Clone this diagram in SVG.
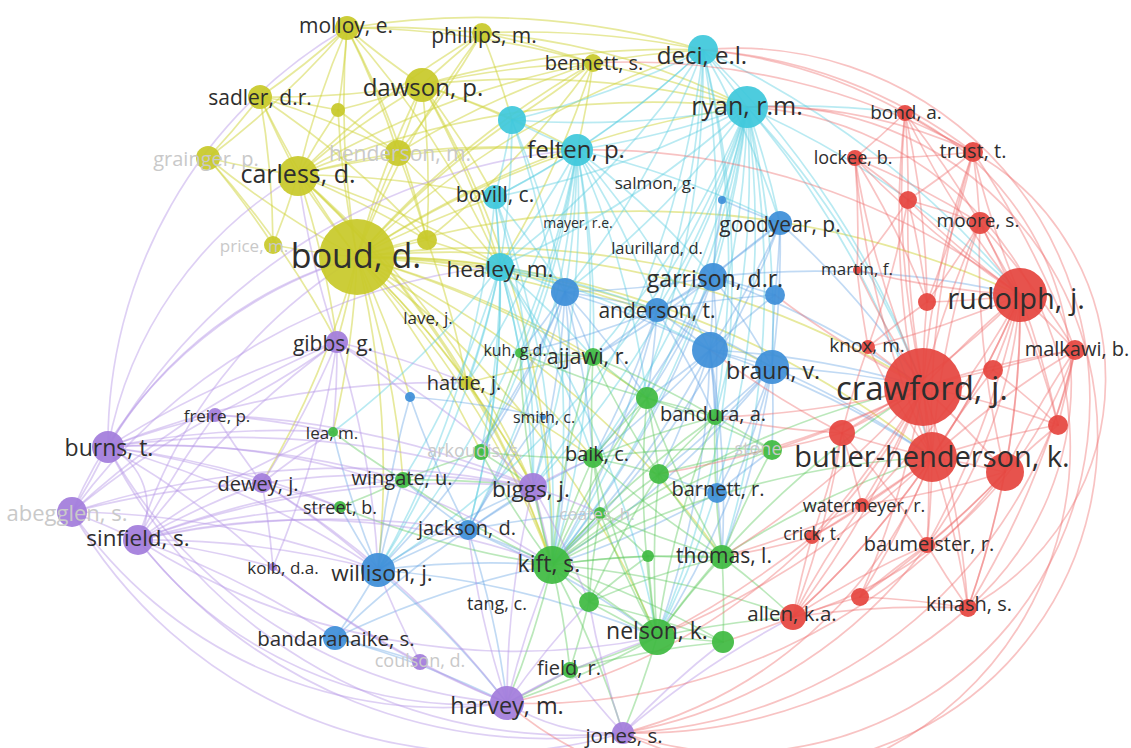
<svg xmlns="http://www.w3.org/2000/svg" width="1131" height="748" viewBox="0 0 1131 748">
<style>
.edges path{fill:none;stroke-width:1.7;stroke-linecap:round}
.ey path{stroke:#cfd43a;stroke-opacity:.5}
.ec path{stroke:#58cde0;stroke-opacity:.42}
.eb path{stroke:#5c9fe2;stroke-opacity:.38}
.eg path{stroke:#5cc85e;stroke-opacity:.42}
.ep path{stroke:#b597e6;stroke-opacity:.45}
.er path{stroke:#ee6a68;stroke-opacity:.4}
.y circle{fill:#c8c92a}
.c circle{fill:#40c8dc}
.b circle{fill:#3e8fd8}
.g circle{fill:#3fba42}
.p circle{fill:#a37ddb}
.r circle{fill:#e5463f}
circle{fill-opacity:.93}
text{font-family:"Open Sans","DejaVu Sans",sans-serif;fill:#2e2e2e;text-anchor:middle;dominant-baseline:central}
text.f{fill:#c9c9c9}
</style>
<rect width="1131" height="748" fill="#ffffff"/>
<g id="connectors" class="edges">
<g class="ey">
<path d="M357 257A900 900 0 0 1 298 175" stroke-width="5"/>
<path d="M357 257A900 900 0 0 1 422 85" stroke-width="4"/>
<path d="M357 257A900 900 0 0 1 347 28" stroke-width="3.5"/>
<path d="M357 257A900 900 0 0 1 260 97" stroke-width="3"/>
<path d="M357 257A900 900 0 0 1 398 153" stroke-width="4"/>
<path d="M357 257A900 900 0 0 1 338 110" stroke-width="3"/>
<path d="M357 257A900 900 0 0 1 427 240" stroke-width="3.5"/>
<path d="M357 257A900 900 0 0 1 273 245" stroke-width="3"/>
<path d="M357 257A900 900 0 0 1 208 158" stroke-width="2"/>
<path d="M357 257A900 900 0 0 1 482 33" stroke-width="2.5"/>
<path d="M357 257A900 900 0 0 1 593 63" stroke-width="2"/>
<path d="M357 257A900 900 0 0 1 467 383" stroke-width="3"/>
<path d="M357 257A900 900 0 0 1 500 266" stroke-width="2.5"/>
<path d="M357 257A900 900 0 0 1 577 150" stroke-width="2"/>
<path d="M357 257A900 900 0 0 1 512 120"/>
<path d="M357 257A900 900 0 0 1 495 197"/>
<path d="M357 257A900 900 0 0 1 337 342" stroke-width="2"/>
<path d="M357 257A900 900 0 0 1 333 432"/>
<path d="M357 257A900 900 0 0 1 403 480"/>
<path d="M357 257A900 900 0 0 1 533 487" stroke-width="2"/>
<path d="M357 257A900 900 0 0 1 552 565" stroke-width="2"/>
<path d="M357 257A900 900 0 0 1 565 292"/>
<path d="M357 257A900 900 0 0 1 713 277"/>
<path d="M357 257A900 900 0 0 1 747 107"/>
<path d="M357 257A900 900 0 0 1 703 50"/>
<path d="M357 257A900 900 0 0 1 923 387"/>
<path d="M357 257A900 900 0 0 1 1020 295"/>
<path d="M357 257A900 900 0 0 1 932 457"/>
<path d="M357 257A900 900 0 0 1 772 367"/>
<path d="M357 257A900 900 0 0 1 593 357"/>
<path d="M357 257A900 900 0 0 1 657 310"/>
<path d="M357 257A900 900 0 0 1 481 452"/>
<path d="M357 257A900 900 0 0 1 593 458"/>
<path d="M357 257A900 900 0 0 1 378 570"/>
<path d="M357 257A900 900 0 0 1 262 483"/>
<path d="M357 257A900 900 0 0 1 410 397"/>
<path d="M357 257A900 900 0 0 1 657 637"/>
<path d="M357 257A900 900 0 0 1 647 398"/>
<path d="M357 257A900 900 0 0 1 722 557"/>
<path d="M298 175A900 900 0 0 1 347 28" stroke-width="2.5"/>
<path d="M298 175A900 900 0 0 1 260 97" stroke-width="2.5"/>
<path d="M298 175A900 900 0 0 1 422 85" stroke-width="2.5"/>
<path d="M298 175A900 900 0 0 1 208 158" stroke-width="2.5"/>
<path d="M298 175A900 900 0 0 1 398 153" stroke-width="2.5"/>
<path d="M298 175A900 900 0 0 1 338 110"/>
<path d="M298 175A900 900 0 0 1 273 245"/>
<path d="M298 175A900 900 0 0 1 482 33"/>
<path d="M298 175A900 900 0 0 1 427 240"/>
<path d="M298 175A900 900 0 0 1 593 63"/>
<path d="M298 175A900 900 0 0 1 577 150"/>
<path d="M298 175A900 900 0 0 1 500 266"/>
<path d="M298 175A900 900 0 0 1 467 383"/>
<path d="M298 175A900 900 0 0 1 495 197"/>
<path d="M298 175A900 900 0 0 1 337 342"/>
<path d="M298 175A900 900 0 0 1 747 107"/>
<path d="M298 175A900 900 0 0 1 552 565"/>
<path d="M298 175A900 900 0 0 1 533 487"/>
<path d="M422 85A900 900 0 0 1 347 28" stroke-width="2.5"/>
<path d="M422 85A900 900 0 0 1 482 33" stroke-width="2.5"/>
<path d="M422 85A900 900 0 0 1 260 97"/>
<path d="M422 85A900 900 0 0 1 398 153" stroke-width="2.5"/>
<path d="M422 85A900 900 0 0 1 593 63"/>
<path d="M422 85A900 900 0 0 1 338 110"/>
<path d="M422 85A900 900 0 0 1 427 240"/>
<path d="M422 85A900 900 0 0 1 512 120"/>
<path d="M422 85A900 900 0 0 1 577 150"/>
<path d="M422 85A900 900 0 0 1 703 50"/>
<path d="M422 85A900 900 0 0 1 747 107"/>
<path d="M422 85A900 900 0 0 1 495 197"/>
<path d="M422 85A900 900 0 0 1 500 266"/>
<path d="M422 85A900 900 0 0 1 552 565"/>
<path d="M347 28A900 900 0 0 1 260 97"/>
<path d="M347 28A900 900 0 0 1 482 33"/>
<path d="M347 28A900 900 0 0 1 398 153"/>
<path d="M347 28A900 900 0 0 1 338 110"/>
<path d="M347 28A900 900 0 0 1 208 158"/>
<path d="M347 28A900 900 0 0 1 593 63"/>
<path d="M347 28A900 900 0 0 1 427 240"/>
<path d="M347 28A900 900 0 0 1 500 266"/>
<path d="M347 28A800 800 0 0 1 703 50"/>
<path d="M260 97A900 900 0 0 1 208 158"/>
<path d="M260 97A900 900 0 0 1 338 110"/>
<path d="M260 97A900 900 0 0 1 398 153"/>
<path d="M260 97A900 900 0 0 1 273 245"/>
<path d="M260 97A900 900 0 0 1 427 240"/>
<path d="M482 33A900 900 0 0 1 593 63"/>
<path d="M482 33A900 900 0 0 1 398 153"/>
<path d="M482 33A900 900 0 0 1 703 50"/>
<path d="M482 33A900 900 0 0 1 512 120"/>
<path d="M482 33A700 700 0 0 1 747 107"/>
<path d="M593 63A900 900 0 0 1 512 120"/>
<path d="M593 63A900 900 0 0 1 577 150"/>
<path d="M593 63A900 900 0 0 1 703 50"/>
<path d="M593 63A900 900 0 0 1 747 107"/>
<path d="M593 63A900 900 0 0 1 427 240"/>
<path d="M593 63A900 900 0 0 1 500 266"/>
<path d="M398 153A900 900 0 0 1 427 240"/>
<path d="M398 153A900 900 0 0 1 338 110"/>
<path d="M398 153A900 900 0 0 1 593 63"/>
<path d="M398 153A900 900 0 0 1 500 266"/>
<path d="M398 153A900 900 0 0 1 577 150"/>
<path d="M208 158A900 900 0 0 1 273 245"/>
<path d="M208 158A900 900 0 0 1 337 342"/>
<path d="M427 240A900 900 0 0 1 500 266"/>
<path d="M427 240A900 900 0 0 1 467 383"/>
<path d="M467 383A900 900 0 0 1 552 565"/>
<path d="M467 383A900 900 0 0 1 533 487"/>
<path d="M467 383A900 900 0 0 1 593 458"/>
<path d="M467 383A900 900 0 0 1 593 357"/>
</g>
<g class="ec">
<path d="M703 50A900 900 0 0 1 747 107" stroke-width="5"/>
<path d="M747 107A900 900 0 0 1 577 150" stroke-width="2"/>
<path d="M747 107A900 900 0 0 1 512 120"/>
<path d="M747 107A900 900 0 0 1 780 223" stroke-width="2"/>
<path d="M747 107A900 900 0 0 1 713 277" stroke-width="2"/>
<path d="M747 107A900 900 0 0 1 565 292"/>
<path d="M747 107A900 900 0 0 1 500 266"/>
<path d="M747 107A900 900 0 0 1 657 310"/>
<path d="M747 107A900 900 0 0 1 495 197"/>
<path d="M747 107A900 900 0 0 1 772 367"/>
<path d="M747 107A900 900 0 0 1 710 350"/>
<path d="M747 107A900 900 0 0 1 923 387"/>
<path d="M747 107A900 900 0 0 1 1020 295"/>
<path d="M747 107A900 900 0 0 1 932 457"/>
<path d="M747 107A900 900 0 0 1 715 417"/>
<path d="M747 107A900 900 0 0 1 647 398"/>
<path d="M747 107A900 900 0 0 1 593 357"/>
<path d="M747 107A900 900 0 0 1 552 565"/>
<path d="M747 107A900 900 0 0 1 378 570"/>
<path d="M747 107A900 900 0 0 1 533 487"/>
<path d="M747 107A900 900 0 0 1 722 200"/>
<path d="M747 107A900 900 0 0 1 593 458"/>
<path d="M747 107A900 900 0 0 1 905 113"/>
<path d="M747 107A900 900 0 0 1 657 637"/>
<path d="M747 107A900 900 0 0 1 722 557"/>
<path d="M703 50A900 900 0 0 1 577 150"/>
<path d="M703 50A900 900 0 0 1 512 120"/>
<path d="M703 50A900 900 0 0 1 495 197"/>
<path d="M703 50A900 900 0 0 1 500 266"/>
<path d="M703 50A900 900 0 0 1 780 223"/>
<path d="M703 50A900 900 0 0 1 713 277"/>
<path d="M703 50A900 900 0 0 1 565 292"/>
<path d="M703 50A900 900 0 0 1 715 417"/>
<path d="M703 50A900 900 0 0 1 923 387"/>
<path d="M703 50A900 900 0 0 1 1020 295"/>
<path d="M703 50A900 900 0 0 1 657 310"/>
<path d="M703 50A900 900 0 0 1 552 565"/>
<path d="M703 50A900 900 0 0 1 533 487"/>
<path d="M703 50A900 900 0 0 1 657 637"/>
<path d="M577 150A900 900 0 0 1 512 120" stroke-width="2.5"/>
<path d="M577 150A900 900 0 0 1 495 197" stroke-width="2.5"/>
<path d="M577 150A900 900 0 0 1 500 266" stroke-width="2.5"/>
<path d="M577 150A900 900 0 0 1 565 292"/>
<path d="M577 150A900 900 0 0 1 713 277"/>
<path d="M577 150A900 900 0 0 1 657 310"/>
<path d="M577 150A900 900 0 0 1 710 350"/>
<path d="M577 150A900 900 0 0 1 552 565"/>
<path d="M577 150A900 900 0 0 1 533 487"/>
<path d="M577 150A900 900 0 0 1 593 357"/>
<path d="M577 150A900 900 0 0 1 468 530"/>
<path d="M577 150A900 900 0 0 1 378 570"/>
<path d="M577 150A900 900 0 0 1 780 223"/>
<path d="M577 150A900 900 0 0 1 647 398"/>
<path d="M577 150A900 900 0 0 1 520 353"/>
<path d="M577 150A900 900 0 0 1 481 452"/>
<path d="M577 150A900 900 0 0 1 467 383"/>
<path d="M512 120A900 900 0 0 1 495 197"/>
<path d="M512 120A900 900 0 0 1 500 266"/>
<path d="M512 120A900 900 0 0 1 565 292"/>
<path d="M512 120A900 900 0 0 1 552 565"/>
<path d="M495 197A900 900 0 0 1 500 266"/>
<path d="M495 197A900 900 0 0 1 565 292"/>
<path d="M495 197A900 900 0 0 1 378 570"/>
<path d="M495 197A900 900 0 0 1 468 530"/>
<path d="M495 197A900 900 0 0 1 552 565"/>
<path d="M495 197A900 900 0 0 1 533 487"/>
<path d="M500 266A900 900 0 0 1 565 292" stroke-width="2.5"/>
<path d="M500 266A900 900 0 0 1 657 310"/>
<path d="M500 266A900 900 0 0 1 710 350"/>
<path d="M500 266A900 900 0 0 1 552 565"/>
<path d="M500 266A900 900 0 0 1 533 487"/>
<path d="M500 266A900 900 0 0 1 378 570"/>
<path d="M500 266A900 900 0 0 1 468 530"/>
<path d="M500 266A900 900 0 0 1 593 357"/>
<path d="M500 266A900 900 0 0 1 593 458"/>
<path d="M500 266A900 900 0 0 1 657 637"/>
<path d="M500 266A900 900 0 0 1 520 353"/>
<path d="M500 266A900 900 0 0 1 481 452"/>
<path d="M500 266A900 900 0 0 1 403 480"/>
<path d="M500 266A900 900 0 0 1 333 432"/>
<path d="M500 266A900 900 0 0 1 467 383"/>
</g>
<g class="eb">
<path d="M713 277A900 900 0 0 1 657 310" stroke-width="3.5"/>
<path d="M713 277A900 900 0 0 1 775 295"/>
<path d="M713 277A900 900 0 0 1 780 223" stroke-width="2.5"/>
<path d="M713 277A900 900 0 0 1 710 350"/>
<path d="M713 277A900 900 0 0 1 772 367"/>
<path d="M713 277A900 900 0 0 1 565 292"/>
<path d="M713 277A900 900 0 0 1 722 200"/>
<path d="M713 277A900 900 0 0 1 923 387"/>
<path d="M713 277A900 900 0 0 1 1020 295"/>
<path d="M713 277A900 900 0 0 1 647 398"/>
<path d="M713 277A900 900 0 0 1 715 417"/>
<path d="M713 277A900 900 0 0 1 552 565"/>
<path d="M713 277A900 900 0 0 1 593 458"/>
<path d="M713 277A900 900 0 0 1 593 357"/>
<path d="M780 223A900 900 0 0 1 775 295"/>
<path d="M780 223A900 900 0 0 1 722 200"/>
<path d="M780 223A900 900 0 0 1 657 310"/>
<path d="M780 223A900 900 0 0 1 710 350"/>
<path d="M780 223A900 900 0 0 1 772 367"/>
<path d="M780 223A900 900 0 0 1 923 387"/>
<path d="M780 223A900 900 0 0 1 552 565"/>
<path d="M565 292A900 900 0 0 1 657 310"/>
<path d="M565 292A900 900 0 0 1 710 350"/>
<path d="M565 292A900 900 0 0 1 520 353"/>
<path d="M565 292A900 900 0 0 1 593 357"/>
<path d="M565 292A900 900 0 0 1 468 530"/>
<path d="M565 292A900 900 0 0 1 378 570" stroke-width="2.5"/>
<path d="M565 292A900 900 0 0 1 647 398"/>
<path d="M565 292A900 900 0 0 1 593 458"/>
<path d="M565 292A900 900 0 0 1 552 565"/>
<path d="M565 292A900 900 0 0 1 533 487"/>
<path d="M565 292A900 900 0 0 1 481 452"/>
<path d="M657 310A900 900 0 0 1 710 350"/>
<path d="M657 310A900 900 0 0 1 772 367"/>
<path d="M657 310A900 900 0 0 1 775 295"/>
<path d="M657 310A900 900 0 0 1 647 398"/>
<path d="M657 310A900 900 0 0 1 715 417"/>
<path d="M657 310A900 900 0 0 1 593 357"/>
<path d="M657 310A900 900 0 0 1 520 353"/>
<path d="M657 310A900 900 0 0 1 593 458"/>
<path d="M657 310A900 900 0 0 1 552 565"/>
<path d="M710 350A900 900 0 0 1 772 367" stroke-width="2.5"/>
<path d="M710 350A900 900 0 0 1 775 295"/>
<path d="M710 350A900 900 0 0 1 715 417"/>
<path d="M710 350A900 900 0 0 1 647 398"/>
<path d="M710 350A900 900 0 0 1 659 474"/>
<path d="M710 350A900 900 0 0 1 717 493"/>
<path d="M710 350A900 900 0 0 1 593 458"/>
<path d="M710 350A900 900 0 0 1 552 565"/>
<path d="M710 350A900 900 0 0 1 923 387"/>
<path d="M710 350A900 900 0 0 1 657 637"/>
<path d="M710 350A900 900 0 0 1 722 557"/>
<path d="M710 350A900 900 0 0 1 932 457"/>
<path d="M772 367A900 900 0 0 1 775 295"/>
<path d="M772 367A900 900 0 0 1 772 450"/>
<path d="M772 367A900 900 0 0 1 717 493"/>
<path d="M772 367A900 900 0 0 1 923 387"/>
<path d="M772 367A900 900 0 0 1 932 457"/>
<path d="M772 367A900 900 0 0 1 659 474"/>
<path d="M772 367A900 900 0 0 1 722 557"/>
<path d="M772 367A900 900 0 0 1 552 565"/>
<path d="M772 367A900 900 0 0 1 657 637"/>
<path d="M772 367A900 900 0 0 1 715 417"/>
<path d="M378 570A900 900 0 0 1 335 638" stroke-width="7"/>
<path d="M378 570A900 900 0 0 1 468 530" stroke-width="4"/>
<path d="M378 570A900 900 0 0 1 340 507"/>
<path d="M378 570A900 900 0 0 1 403 480"/>
<path d="M378 570A900 900 0 0 1 552 565"/>
<path d="M378 570A900 900 0 0 1 533 487"/>
<path d="M378 570A900 900 0 0 1 410 397"/>
<path d="M378 570A900 900 0 0 1 333 432"/>
<path d="M378 570A900 900 0 0 1 507 703"/>
<path d="M378 570A900 900 0 0 1 657 637"/>
<path d="M468 530A900 900 0 0 1 552 565"/>
<path d="M468 530A900 900 0 0 1 533 487"/>
<path d="M468 530A900 900 0 0 1 410 397"/>
<path d="M468 530A900 900 0 0 1 403 480"/>
<path d="M468 530A900 900 0 0 1 600 513"/>
<path d="M468 530A900 900 0 0 1 543 417"/>
<path d="M468 530A900 900 0 0 1 657 637"/>
<path d="M468 530A900 900 0 0 1 507 703"/>
<path d="M468 530A900 900 0 0 1 593 458"/>
<path d="M335 638A900 900 0 0 1 468 530"/>
<path d="M335 638A900 900 0 0 1 507 703"/>
<path d="M335 638A900 900 0 0 1 552 565"/>
<path d="M335 638A900 900 0 0 1 420 662"/>
<path d="M717 493A900 900 0 0 1 552 565"/>
<path d="M717 493A900 900 0 0 1 722 557"/>
<path d="M717 493A900 900 0 0 1 772 450"/>
<path d="M717 493A900 900 0 0 1 659 474"/>
<path d="M410 397A900 900 0 0 1 543 417"/>
</g>
<g class="eg">
<path d="M552 565A900 900 0 0 1 657 637" stroke-width="3.5"/>
<path d="M552 565A900 900 0 0 1 589 602" stroke-width="2.5"/>
<path d="M552 565A900 900 0 0 1 722 557"/>
<path d="M552 565A900 900 0 0 1 593 458" stroke-width="2.5"/>
<path d="M552 565A900 900 0 0 1 659 474"/>
<path d="M552 565A900 900 0 0 1 647 398"/>
<path d="M552 565A900 900 0 0 1 600 513"/>
<path d="M552 565A900 900 0 0 1 648 556"/>
<path d="M552 565A900 900 0 0 1 570 670"/>
<path d="M552 565A900 900 0 0 1 723 642"/>
<path d="M552 565A900 900 0 0 1 481 452"/>
<path d="M552 565A900 900 0 0 1 533 487"/>
<path d="M552 565A900 900 0 0 1 715 417"/>
<path d="M552 565A900 900 0 0 1 593 357"/>
<path d="M552 565A900 900 0 0 1 772 450"/>
<path d="M552 565A900 900 0 0 1 403 480"/>
<path d="M552 565A900 900 0 0 1 507 703"/>
<path d="M552 565A900 900 0 0 1 623 733"/>
<path d="M552 565A900 900 0 0 1 793 617"/>
<path d="M552 565A900 900 0 0 1 923 387"/>
<path d="M552 565A900 900 0 0 1 932 457"/>
<path d="M552 565A900 900 0 0 1 340 507"/>
<path d="M552 565A900 900 0 0 1 520 353"/>
<path d="M657 637A900 900 0 0 1 589 602"/>
<path d="M657 637A900 900 0 0 1 722 557"/>
<path d="M657 637A900 900 0 0 1 723 642"/>
<path d="M657 637A900 900 0 0 1 570 670"/>
<path d="M657 637A900 900 0 0 1 659 474"/>
<path d="M657 637A900 900 0 0 1 593 458"/>
<path d="M657 637A900 900 0 0 1 648 556"/>
<path d="M657 637A900 900 0 0 1 600 513"/>
<path d="M657 637A900 900 0 0 1 623 733"/>
<path d="M657 637A900 900 0 0 1 507 703"/>
<path d="M657 637A900 900 0 0 1 793 617"/>
<path d="M657 637A900 900 0 0 1 923 387"/>
<path d="M657 637A900 900 0 0 1 715 417"/>
<path d="M657 637A900 900 0 0 1 647 398"/>
<path d="M589 602A900 900 0 0 1 722 557"/>
<path d="M589 602A900 900 0 0 1 570 670"/>
<path d="M589 602A900 900 0 0 1 593 458"/>
<path d="M589 602A900 900 0 0 1 600 513"/>
<path d="M589 602A900 900 0 0 1 648 556"/>
<path d="M589 602A900 900 0 0 1 659 474"/>
<path d="M589 602A900 900 0 0 1 723 642"/>
<path d="M722 557A900 900 0 0 1 723 642"/>
<path d="M722 557A900 900 0 0 1 659 474"/>
<path d="M722 557A900 900 0 0 1 593 458"/>
<path d="M722 557A900 900 0 0 1 772 450"/>
<path d="M722 557A900 900 0 0 1 648 556"/>
<path d="M722 557A900 900 0 0 1 793 617"/>
<path d="M722 557A900 900 0 0 1 932 457"/>
<path d="M722 557A900 900 0 0 1 647 398"/>
<path d="M722 557A900 900 0 0 1 715 417"/>
<path d="M722 557A900 900 0 0 1 600 513"/>
<path d="M593 458A900 900 0 0 1 659 474"/>
<path d="M593 458A900 900 0 0 1 647 398"/>
<path d="M593 458A900 900 0 0 1 593 357"/>
<path d="M593 458A900 900 0 0 1 481 452"/>
<path d="M593 458A900 900 0 0 1 600 513"/>
<path d="M593 458A900 900 0 0 1 715 417"/>
<path d="M593 458A900 900 0 0 1 772 450"/>
<path d="M647 398A900 900 0 0 1 593 357"/>
<path d="M647 398A900 900 0 0 1 715 417"/>
<path d="M647 398A900 900 0 0 1 659 474"/>
<path d="M647 398A900 900 0 0 1 772 450"/>
<path d="M647 398A900 900 0 0 1 520 353"/>
<path d="M659 474A900 900 0 0 1 772 450"/>
<path d="M659 474A900 900 0 0 1 715 417"/>
<path d="M659 474A900 900 0 0 1 593 357"/>
<path d="M403 480A900 900 0 0 1 340 507"/>
<path d="M403 480A900 900 0 0 1 333 432"/>
<path d="M403 480A900 900 0 0 1 481 452"/>
<path d="M403 480A900 900 0 0 1 533 487"/>
<path d="M520 353A900 900 0 0 1 593 357"/>
<path d="M520 353A900 900 0 0 1 481 452"/>
<path d="M593 357A900 900 0 0 1 715 417"/>
<path d="M570 670A900 900 0 0 1 507 703"/>
<path d="M570 670A900 900 0 0 1 723 642"/>
<path d="M715 417A900 900 0 0 1 772 450"/>
<path d="M600 513A900 900 0 0 1 648 556"/>
<path d="M481 452A900 900 0 0 1 533 487"/>
</g>
<g class="ep">
<path d="M108 447A65 65 0 0 1 138 540" stroke-width="7"/>
<path d="M108 447A900 900 0 0 1 72 512" stroke-width="4"/>
<path d="M72 512A900 900 0 0 1 138 540" stroke-width="4"/>
<path d="M108 447A900 900 0 0 1 215 415"/>
<path d="M108 447A900 900 0 0 1 262 483"/>
<path d="M108 447A900 900 0 0 1 337 342"/>
<path d="M108 447A900 900 0 0 1 533 487"/>
<path d="M108 447A900 900 0 0 1 378 570"/>
<path d="M108 447A900 900 0 0 1 273 567"/>
<path d="M108 447A900 900 0 0 1 333 432"/>
<path d="M108 447A900 900 0 0 1 340 507"/>
<path d="M108 447A900 900 0 0 1 403 480"/>
<path d="M108 447A900 900 0 0 1 467 383"/>
<path d="M138 540A900 900 0 0 1 262 483"/>
<path d="M138 540A900 900 0 0 1 215 415"/>
<path d="M138 540A900 900 0 0 1 273 567"/>
<path d="M138 540A900 900 0 0 1 533 487"/>
<path d="M138 540A900 900 0 0 1 378 570"/>
<path d="M138 540A900 900 0 0 1 335 638"/>
<path d="M138 540A900 900 0 0 1 337 342"/>
<path d="M138 540A900 900 0 0 1 333 432"/>
<path d="M138 540A900 900 0 0 1 340 507"/>
<path d="M138 540A900 900 0 0 1 403 480"/>
<path d="M138 540A900 900 0 0 1 468 530"/>
<path d="M72 512A900 900 0 0 1 262 483"/>
<path d="M72 512A900 900 0 0 1 215 415"/>
<path d="M72 512A900 900 0 0 1 337 342"/>
<path d="M72 512A900 900 0 0 1 378 570"/>
<path d="M72 512A900 900 0 0 1 533 487"/>
<path d="M337 342A900 900 0 0 1 215 415"/>
<path d="M337 342A900 900 0 0 1 262 483"/>
<path d="M337 342A900 900 0 0 1 533 487"/>
<path d="M337 342A900 900 0 0 1 467 383"/>
<path d="M337 342A900 900 0 0 1 273 567"/>
<path d="M337 342A900 900 0 0 1 333 432"/>
<path d="M337 342A900 900 0 0 1 378 570"/>
<path d="M337 342A900 900 0 0 1 298 175"/>
<path d="M337 342A900 900 0 0 1 410 397"/>
<path d="M262 483A900 900 0 0 1 215 415"/>
<path d="M262 483A900 900 0 0 1 273 567"/>
<path d="M262 483A900 900 0 0 1 533 487"/>
<path d="M262 483A900 900 0 0 1 378 570"/>
<path d="M262 483A900 900 0 0 1 340 507"/>
<path d="M262 483A900 900 0 0 1 333 432"/>
<path d="M262 483A900 900 0 0 1 507 703"/>
<path d="M215 415A900 900 0 0 1 533 487"/>
<path d="M215 415A900 900 0 0 1 333 432"/>
<path d="M507 703A200 200 0 0 0 623 733" stroke-width="6"/>
<path d="M507 703A900 900 0 0 1 420 662" stroke-width="2.5"/>
<path d="M507 703A900 900 0 0 1 533 487"/>
<path d="M507 703A900 900 0 0 1 273 567"/>
<path d="M507 703A900 900 0 0 1 570 670"/>
<path d="M507 703A900 900 0 0 1 657 637"/>
<path d="M507 703A900 900 0 0 1 468 530"/>
<path d="M507 703A900 900 0 0 1 589 602"/>
<path d="M507 703A900 900 0 0 1 552 565"/>
<path d="M533 487A900 900 0 0 1 593 458"/>
<path d="M533 487A900 900 0 0 1 589 602"/>
<path d="M533 487A900 900 0 0 1 600 513"/>
<path d="M533 487A900 900 0 0 1 552 565"/>
<path d="M420 662A900 900 0 0 1 273 567"/>
<path d="M420 662A900 900 0 0 1 378 570"/>
<path d="M623 733A900 900 0 0 1 570 670"/>
<path d="M623 733A900 900 0 0 1 723 642"/>
<path d="M623 733A900 900 0 0 1 793 617"/>
<path d="M623 733A900 900 0 0 1 589 602"/>
<path d="M138 540A420 420 0 0 0 507 703"/>
<path d="M72 512A480 480 0 0 0 623 733"/>
<path d="M108 447A500 500 0 0 0 507 703"/>
<path d="M108 447A520 520 0 0 0 623 733"/>
<path d="M138 540A520 520 0 0 0 623 733"/>
<path d="M72 512A450 450 0 0 0 507 703"/>
<path d="M108 447A480 480 0 0 1 347 28"/>
<path d="M108 447A420 420 0 0 1 357 257"/>
<path d="M72 512A450 450 0 0 1 357 257"/>
<path d="M108 447A400 400 0 0 1 298 175"/>
<path d="M138 540A500 500 0 0 1 357 257"/>
<path d="M108 447A600 600 0 0 1 577 150"/>
<path d="M72 512A600 600 0 0 1 500 266"/>
<path d="M108 447A700 700 0 0 1 552 565"/>
<path d="M138 540A700 700 0 0 0 657 637"/>
<path d="M138 540A700 700 0 0 1 552 565"/>
</g>
<g class="er">
<path d="M923 387A900 900 0 0 1 1020 295" stroke-width="6"/>
<path d="M923 387A900 900 0 0 1 932 457" stroke-width="6"/>
<path d="M923 387A900 900 0 0 1 1005 472" stroke-width="3.5"/>
<path d="M923 387A900 900 0 0 1 842 433" stroke-width="3.5"/>
<path d="M923 387A900 900 0 0 1 993 370" stroke-width="2.5"/>
<path d="M923 387A900 900 0 0 1 927 302" stroke-width="2.5"/>
<path d="M923 387A900 900 0 0 1 868 347"/>
<path d="M923 387A900 900 0 0 1 1075 350"/>
<path d="M923 387A900 900 0 0 1 1058 425"/>
<path d="M923 387A900 900 0 0 1 905 113"/>
<path d="M923 387A900 900 0 0 1 855 158"/>
<path d="M923 387A900 900 0 0 1 973 152"/>
<path d="M923 387A900 900 0 0 1 980 223"/>
<path d="M923 387A900 900 0 0 1 908 200"/>
<path d="M923 387A900 900 0 0 1 857 270"/>
<path d="M923 387A900 900 0 0 1 862 505"/>
<path d="M923 387A900 900 0 0 1 812 537"/>
<path d="M923 387A900 900 0 0 1 927 545"/>
<path d="M923 387A900 900 0 0 1 793 617"/>
<path d="M923 387A900 900 0 0 1 860 597"/>
<path d="M923 387A900 900 0 0 1 968 608"/>
<path d="M923 387A900 900 0 0 1 775 295"/>
<path d="M923 387A900 900 0 0 1 772 450"/>
<path d="M923 387A900 900 0 0 1 722 557"/>
<path d="M923 387A900 900 0 0 1 715 417"/>
<path d="M923 387A900 900 0 0 1 659 474"/>
<path d="M1020 295A900 900 0 0 1 932 457" stroke-width="5"/>
<path d="M1020 295A900 900 0 0 1 1005 472" stroke-width="2.5"/>
<path d="M1020 295A900 900 0 0 1 927 302"/>
<path d="M1020 295A900 900 0 0 1 993 370"/>
<path d="M1020 295A900 900 0 0 1 1075 350"/>
<path d="M1020 295A900 900 0 0 1 1058 425"/>
<path d="M1020 295A900 900 0 0 1 980 223"/>
<path d="M1020 295A900 900 0 0 1 973 152"/>
<path d="M1020 295A900 900 0 0 1 905 113"/>
<path d="M1020 295A900 900 0 0 1 855 158"/>
<path d="M1020 295A900 900 0 0 1 908 200"/>
<path d="M1020 295A900 900 0 0 1 868 347"/>
<path d="M1020 295A900 900 0 0 1 842 433"/>
<path d="M1020 295A900 900 0 0 1 927 545"/>
<path d="M1020 295A900 900 0 0 1 968 608"/>
<path d="M1020 295A900 900 0 0 1 793 617"/>
<path d="M1020 295A900 900 0 0 1 857 270"/>
<path d="M1020 295A900 900 0 0 1 862 505"/>
<path d="M932 457A900 900 0 0 1 1005 472" stroke-width="2.5"/>
<path d="M932 457A900 900 0 0 1 842 433"/>
<path d="M932 457A900 900 0 0 1 993 370"/>
<path d="M932 457A900 900 0 0 1 1075 350"/>
<path d="M932 457A900 900 0 0 1 1058 425"/>
<path d="M932 457A900 900 0 0 1 862 505"/>
<path d="M932 457A900 900 0 0 1 812 537"/>
<path d="M932 457A900 900 0 0 1 927 545"/>
<path d="M932 457A900 900 0 0 1 860 597"/>
<path d="M932 457A900 900 0 0 1 793 617"/>
<path d="M932 457A900 900 0 0 1 968 608"/>
<path d="M932 457A900 900 0 0 1 868 347"/>
<path d="M932 457A900 900 0 0 1 973 152"/>
<path d="M932 457A900 900 0 0 1 980 223"/>
<path d="M932 457A900 900 0 0 1 905 113"/>
<path d="M932 457A900 900 0 0 1 855 158"/>
<path d="M932 457A900 900 0 0 1 657 637"/>
<path d="M1005 472A900 900 0 0 1 1075 350"/>
<path d="M1005 472A900 900 0 0 1 1058 425"/>
<path d="M1005 472A900 900 0 0 1 927 545"/>
<path d="M1005 472A900 900 0 0 1 968 608"/>
<path d="M1005 472A900 900 0 0 1 860 597"/>
<path d="M1005 472A900 900 0 0 1 862 505"/>
<path d="M1005 472A900 900 0 0 1 980 223"/>
<path d="M973 152A900 900 0 0 1 905 113"/>
<path d="M973 152A900 900 0 0 1 980 223"/>
<path d="M973 152A900 900 0 0 1 855 158"/>
<path d="M973 152A900 900 0 0 1 908 200"/>
<path d="M973 152A900 900 0 0 1 1075 350"/>
<path d="M973 152A900 900 0 0 1 927 302"/>
<path d="M905 113A900 900 0 0 1 855 158"/>
<path d="M905 113A900 900 0 0 1 908 200"/>
<path d="M905 113A900 900 0 0 1 980 223"/>
<path d="M905 113A900 900 0 0 1 927 302"/>
<path d="M855 158A900 900 0 0 1 908 200"/>
<path d="M855 158A900 900 0 0 1 980 223"/>
<path d="M855 158A900 900 0 0 1 857 270"/>
<path d="M855 158A900 900 0 0 1 927 302"/>
<path d="M908 200A900 900 0 0 1 980 223"/>
<path d="M908 200A900 900 0 0 1 857 270"/>
<path d="M908 200A900 900 0 0 1 927 302"/>
<path d="M908 200A900 900 0 0 1 868 347"/>
<path d="M980 223A900 900 0 0 1 927 302"/>
<path d="M980 223A900 900 0 0 1 1075 350"/>
<path d="M980 223A900 900 0 0 1 1058 425"/>
<path d="M1075 350A900 900 0 0 1 1058 425"/>
<path d="M1075 350A900 900 0 0 1 968 608"/>
<path d="M842 433A900 900 0 0 1 868 347"/>
<path d="M842 433A900 900 0 0 1 812 537"/>
<path d="M842 433A900 900 0 0 1 862 505"/>
<path d="M842 433A900 900 0 0 1 793 617"/>
<path d="M842 433A900 900 0 0 1 927 545"/>
<path d="M842 433A900 900 0 0 1 772 450"/>
<path d="M842 433A900 900 0 0 1 710 350"/>
<path d="M842 433A900 900 0 0 1 715 417"/>
<path d="M793 617A900 900 0 0 1 860 597"/>
<path d="M793 617A900 900 0 0 1 812 537"/>
<path d="M793 617A900 900 0 0 1 862 505"/>
<path d="M793 617A900 900 0 0 1 968 608"/>
<path d="M793 617A900 900 0 0 1 927 545"/>
<path d="M793 617A900 900 0 0 1 723 642"/>
<path d="M860 597A900 900 0 0 1 968 608"/>
<path d="M860 597A900 900 0 0 1 927 545"/>
<path d="M968 608A900 900 0 0 1 927 545"/>
<path d="M862 505A900 900 0 0 1 812 537"/>
<path d="M862 505A900 900 0 0 1 722 557"/>
<path d="M812 537A900 900 0 0 1 722 557"/>
<path d="M812 537A900 900 0 0 1 657 637"/>
<path d="M868 347A900 900 0 0 1 857 270"/>
<path d="M868 347A900 900 0 0 1 927 302"/>
<path d="M993 370A900 900 0 0 1 1075 350"/>
<path d="M993 370A900 900 0 0 1 1058 425"/>
<path d="M703 50A352 352 0 1 1 623 733"/>
<path d="M747 107A330 330 0 1 1 623 733"/>
<path d="M747 107A340 340 0 1 1 507 703"/>
<path d="M973 152A260 260 0 0 1 968 608"/>
<path d="M905 113A300 300 0 0 1 968 608"/>
<path d="M1020 295A480 480 0 0 1 623 733"/>
<path d="M1075 350A480 480 0 0 1 623 733"/>
<path d="M968 608A500 500 0 0 1 623 733"/>
<path d="M923 387A600 600 0 0 1 507 703"/>
<path d="M932 457A450 450 0 0 1 623 733"/>
<path d="M1005 472A600 600 0 0 1 507 703"/>
<path d="M703 50A500 500 0 0 1 905 113"/>
<path d="M703 50A500 500 0 0 1 973 152"/>
<path d="M747 107A500 500 0 0 1 973 152"/>
<path d="M577 150A700 700 0 0 1 1020 295"/>
<path d="M593 63A700 700 0 0 1 973 152"/>
<path d="M1075 350A420 420 0 0 1 793 617"/>
</g>
</g>
<g id="nodes">
<g id="n-y5" class="y"><circle cx="338" cy="110" r="7"/></g>
<g id="n-y11" class="y"><circle cx="427" cy="240" r="10"/></g>
<g id="n-c3" class="c"><circle cx="512" cy="120" r="14"/></g>
<g id="n-b1" class="b"><circle cx="722" cy="200" r="4"/></g>
<g id="n-b4" class="b"><circle cx="775" cy="295" r="10"/></g>
<g id="n-b5" class="b"><circle cx="565" cy="292" r="14"/></g>
<g id="n-b7" class="b"><circle cx="710" cy="350" r="18"/></g>
<g id="n-b9" class="b"><circle cx="410" cy="397" r="5"/></g>
<g id="n-g3" class="g"><circle cx="647" cy="398" r="11"/></g>
<g id="n-g7" class="g"><circle cx="659" cy="474" r="10"/></g>
<g id="n-g14" class="g"><circle cx="648" cy="556" r="6"/></g>
<g id="n-g16" class="g"><circle cx="589" cy="602" r="10"/></g>
<g id="n-g18" class="g"><circle cx="723" cy="642" r="11"/></g>
<g id="n-r4" class="r"><circle cx="908" cy="200" r="9"/></g>
<g id="n-r7" class="r"><circle cx="927" cy="302" r="9"/></g>
<g id="n-r12" class="r"><circle cx="993" cy="370" r="10"/></g>
<g id="n-r13" class="r"><circle cx="1058" cy="425" r="10"/></g>
<g id="n-r14" class="r"><circle cx="842" cy="433" r="13"/></g>
<g id="n-r16" class="r"><circle cx="1005" cy="472" r="19"/></g>
<g id="n-r20" class="r"><circle cx="860" cy="597" r="9"/></g>
<g id="n-smith" class="b"><circle cx="543" cy="417" r="3"/><text x="544" y="417" font-size="16">smith, c.</text></g>
<g id="n-martin" class="r"><circle cx="857" cy="270" r="4"/><text x="857" y="268" font-size="17">martin, f.</text></g>
<g id="n-kolb" class="p"><circle cx="273" cy="567" r="4"/><text x="283" y="567" font-size="17">kolb, d.a.</text></g>
<g id="n-kuh" class="g"><circle cx="520" cy="353" r="5"/><text x="515" y="350" font-size="16">kuh, g.d.</text></g>
<g id="n-lea" class="g"><circle cx="333" cy="432" r="5"/><text x="332" y="432" font-size="17">lea, m.</text></g>
<g id="n-street" class="g"><circle cx="340" cy="507" r="6"/><text x="340" y="507" font-size="18">street, b.</text></g>
<g id="n-coates" class="g"><circle cx="600" cy="513" r="6"/><text class="f" x="597" y="513" font-size="17">coates, h.</text></g>
<g id="n-mayer" class="b"><text x="578" y="222" font-size="14">mayer, r.e.</text></g>
<g id="n-laurillard" class="b"><text x="657" y="247" font-size="16.5">laurillard, d.</text></g>
<g id="n-salmon" class="b"><text x="655" y="182" font-size="17">salmon, g.</text></g>
<g id="n-lave" class="b"><text x="428" y="317" font-size="17">lave, j.</text></g>
<g id="n-tang" class="p"><text x="497" y="603" font-size="18">tang, c.</text></g>
<g id="n-freire" class="p"><circle cx="215" cy="415" r="7"/><text x="217" y="415" font-size="17">freire, p.</text></g>
<g id="n-hattie" class="y"><circle cx="467" cy="383" r="7"/><text x="464" y="382" font-size="20">hattie, j.</text></g>
<g id="n-knox" class="r"><circle cx="868" cy="347" r="7"/><text x="867" y="345" font-size="19">knox, m.</text></g>
<g id="n-watermeyer" class="r"><circle cx="862" cy="505" r="7"/><text x="864" y="505" font-size="18">watermeyer, r.</text></g>
<g id="n-crick" class="r"><circle cx="812" cy="537" r="7"/><text x="812" y="533" font-size="17.5">crick, t.</text></g>
<g id="n-bond" class="r"><circle cx="905" cy="113" r="8"/><text x="906" y="112" font-size="19">bond, a.</text></g>
<g id="n-lockee" class="r"><circle cx="855" cy="158" r="8"/><text x="853" y="157" font-size="18">lockee, b.</text></g>
<g id="n-baumeister" class="r"><circle cx="927" cy="545" r="8"/><text x="929" y="543" font-size="20">baumeister, r.</text></g>
<g id="n-ajjawi" class="g"><circle cx="593" cy="357" r="9"/><text x="588" y="355" font-size="21.5">ajjawi, r.</text></g>
<g id="n-bandura" class="g"><circle cx="715" cy="417" r="8"/><text x="713" y="413" font-size="20">bandura, a.</text></g>
<g id="n-arkoudis" class="g"><circle cx="481" cy="452" r="8"/><text class="f" x="475" y="450" font-size="18">arkoudis, s.</text></g>
<g id="n-wingate" class="g"><circle cx="403" cy="480" r="8"/><text x="402" y="477" font-size="20">wingate, u.</text></g>
<g id="n-field" class="g"><circle cx="570" cy="670" r="8"/><text x="569" y="667" font-size="20">field, r.</text></g>
<g id="n-coulson" class="p"><circle cx="420" cy="662" r="8"/><text class="f" x="420" y="660" font-size="18">coulson, d.</text></g>
<g id="n-bennett" class="y"><circle cx="593" cy="63" r="9"/><text x="594" y="62" font-size="20">bennett, s.</text></g>
<g id="n-price" class="y"><circle cx="273" cy="245" r="9"/><text class="f" x="254" y="245" font-size="17">price, m.</text></g>
<g id="n-kinash" class="r"><circle cx="968" cy="608" r="9"/><text x="969" y="603" font-size="20">kinash, s.</text></g>
<g id="n-phillips" class="y"><circle cx="482" cy="33" r="10"/><text x="484" y="35" font-size="21">phillips, m.</text></g>
<g id="n-trust" class="r"><circle cx="973" cy="152" r="10"/><text x="973" y="150" font-size="20">trust, t.</text></g>
<g id="n-malkawi" class="r"><circle cx="1075" cy="350" r="10"/><text x="1077" y="348" font-size="20">malkawi, b.</text></g>
<g id="n-stone" class="g"><circle cx="772" cy="450" r="10"/><text class="f" x="758" y="448" font-size="18">stone</text></g>
<g id="n-baik" class="g"><circle cx="593" cy="458" r="10"/><text x="597" y="453" font-size="20">baik, c.</text></g>
<g id="n-jackson" class="b"><circle cx="468" cy="530" r="10"/><text x="467" y="527" font-size="20">jackson, d.</text></g>
<g id="n-barnett" class="b"><circle cx="717" cy="493" r="10"/><text x="718" y="488" font-size="20">barnett, r.</text></g>
<g id="n-dewey" class="p"><circle cx="262" cy="483" r="10"/><text x="258" y="483" font-size="20">dewey, j.</text></g>
<g id="n-gibbs" class="p"><circle cx="337" cy="342" r="11"/><text x="333" y="343" font-size="21">gibbs, g.</text></g>
<g id="n-moore" class="r"><circle cx="980" cy="223" r="11"/><text x="978" y="220" font-size="19">moore, s.</text></g>
<g id="n-jones" class="p"><circle cx="623" cy="733" r="11"/><text x="624" y="735" font-size="20.5">jones, s.</text></g>
<g id="n-molloy" class="y"><circle cx="347" cy="28" r="12"/><text x="346" y="25" font-size="21">molloy, e.</text></g>
<g id="n-sadler" class="y"><circle cx="260" cy="97" r="12"/><text x="260" y="97" font-size="21">sadler, d.r.</text></g>
<g id="n-grainger" class="y"><circle cx="208" cy="158" r="12"/><text class="f" x="206" y="158" font-size="20">grainger, p.</text></g>
<g id="n-bovill" class="c"><circle cx="495" cy="197" r="12"/><text x="495" y="194" font-size="21">bovill, c.</text></g>
<g id="n-goodyear" class="b"><circle cx="780" cy="223" r="12"/><text x="780" y="224" font-size="21">goodyear, p.</text></g>
<g id="n-anderson" class="b"><circle cx="657" cy="310" r="12"/><text x="657" y="310" font-size="21">anderson, t.</text></g>
<g id="n-bandaranaike" class="b"><circle cx="335" cy="638" r="12"/><text x="336" y="638" font-size="20.5">bandaranaike, s.</text></g>
<g id="n-thomas" class="g"><circle cx="722" cy="557" r="12"/><text x="724" y="555" font-size="21">thomas, l.</text></g>
<g id="n-henderson" class="y"><circle cx="398" cy="153" r="13"/><text class="f" x="400" y="153" font-size="21">henderson, m.</text></g>
<g id="n-allen" class="r"><circle cx="793" cy="617" r="13"/><text x="792" y="613" font-size="20.5">allen, k.a.</text></g>
<g id="n-healey" class="c"><circle cx="500" cy="267" r="14"/><text x="500" y="268" font-size="22.5">healey, m.</text></g>
<g id="n-garrison" class="b"><circle cx="713" cy="277" r="14"/><text x="715" y="278" font-size="23">garrison, d.r.</text></g>
<g id="n-biggs" class="p"><circle cx="533" cy="487" r="14"/><text x="531" y="488" font-size="22.5">biggs, j.</text></g>
<g id="n-deci" class="c"><circle cx="703" cy="50" r="15"/><text x="702" y="54" font-size="24">deci, e.l.</text></g>
<g id="n-abegglen" class="p"><circle cx="72" cy="512" r="15"/><text class="f" x="67" y="512" font-size="22">abegglen, s.</text></g>
<g id="n-sinfield" class="p"><circle cx="138" cy="540" r="15"/><text x="138" y="537" font-size="22.4">sinfield, s.</text></g>
<g id="n-felten" class="c"><circle cx="577" cy="150" r="16"/><text x="576" y="148" font-size="24">felten, p.</text></g>
<g id="n-burns" class="p"><circle cx="108" cy="447" r="16"/><text x="109" y="447" font-size="23">burns, t.</text></g>
<g id="n-dawson" class="y"><circle cx="422" cy="85" r="17"/><text x="423" y="86" font-size="24">dawson, p.</text></g>
<g id="n-braun" class="b"><circle cx="772" cy="367" r="17"/><text x="773" y="370" font-size="23">braun, v.</text></g>
<g id="n-willison" class="b"><circle cx="378" cy="570" r="17"/><text x="382" y="572" font-size="22.5">willison, j.</text></g>
<g id="n-harvey" class="p"><circle cx="507" cy="703" r="17"/><text x="507" y="705" font-size="23.4">harvey, m.</text></g>
<g id="n-nelson" class="g"><circle cx="657" cy="637" r="18"/><text x="657" y="630" font-size="23">nelson, k.</text></g>
<g id="n-kift" class="g"><circle cx="552" cy="565" r="19"/><text x="549" y="563" font-size="23">kift, s.</text></g>
<g id="n-carless" class="y"><circle cx="298" cy="176" r="20"/><text x="298" y="173" font-size="25">carless, d.</text></g>
<g id="n-ryan" class="c"><circle cx="747" cy="107" r="21"/><text x="747" y="105" font-size="25">ryan, r.m.</text></g>
<g id="n-butler-henderson" class="r"><circle cx="932" cy="457" r="25"/><text x="932" y="455" font-size="29">butler-henderson, k.</text></g>
<g id="n-rudolph" class="r"><circle cx="1020" cy="295" r="27"/><text x="1016" y="297" font-size="29">rudolph, j.</text></g>
<g id="n-boud" class="y"><circle cx="357" cy="257" r="38"/><text x="356" y="255" font-size="34">boud, d.</text></g>
<g id="n-crawford" class="r"><circle cx="923" cy="387" r="39"/><text x="922" y="387" font-size="33">crawford, j.</text></g>
</g>
</svg>
